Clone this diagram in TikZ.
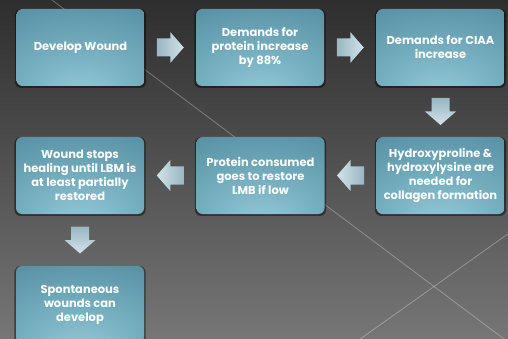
\documentclass[tikz,border=0pt]{standalone}
\usepackage{fontspec}
\setmainfont{Poppins}
\usetikzlibrary{shadows,calc}
\definecolor{bgtop}{HTML}{2E2E2E}
\definecolor{bgmid}{HTML}{464646}
\definecolor{bgbot}{HTML}{767676}
\definecolor{tlight}{HTML}{98CAD9}
\definecolor{tmid}{HTML}{76AFC0}
\definecolor{tdark}{HTML}{558FA1}
\definecolor{tdarker}{HTML}{4A8093}
\definecolor{adark}{HTML}{98B6C2}
\definecolor{alight}{HTML}{D2E3E8}
\pgfdeclareradialshading{tealbox}{\pgfpoint{0bp}{-34bp}}{color(0bp)=(tlight); color(22bp)=(tmid); color(48bp)=(tdark); color(80bp)=(tdarker)}
\tikzset{
  stepbox/.style={rounded corners=6pt, minimum width=128pt, minimum height=77pt,
    shading=tealbox, text=white, align=center, inner sep=2pt,
    font=\bfseries\fontsize{11.5}{14}\selectfont,
    general shadow={fill=black, opacity=0.45, shadow scale=1.025, shadow yshift=-1pt}},
  bgline/.style={white, opacity=0.3, line width=0.8pt},
  pics/arrowR/.style={code={
    \shade[left color=adark, right color=alight]
      (-13.5,-9) -- (0,-9) -- (0,-15.5) -- (13.5,0) -- (0,15.5) -- (0,9) -- (-13.5,9) -- cycle;}},
  pics/arrowL/.style={code={
    \shade[left color=alight, right color=adark]
      (13.5,-9) -- (0,-9) -- (0,-15.5) -- (-13.5,0) -- (0,15.5) -- (0,9) -- (13.5,9) -- cycle;}},
  pics/arrowD/.style={code={
    \shade[top color=adark, bottom color=alight]
      (-9,-13.5) -- (9,-13.5) -- (9,0) -- (15.5,0) -- (0,13.5) -- (-15.5,0) -- (-9,0) -- cycle;}}
}
\begin{document}
\begin{tikzpicture}[x=1pt,y=-1pt]
\useasboundingbox (0,0) rectangle (508,339);
\clip (0,0) rectangle (508,339);
\shade[top color=bgtop, middle color=bgmid, bottom color=bgbot] (0,0) rectangle (508,339);
% background diagonal lines
\coordinate (l1a) at (52,0);
\coordinate (l1b) at (512,345);
\coordinate (l2a) at (356,342);
\coordinate (l2b) at (512,231);
\draw[bgline] (l1a) -- (l1b);
\draw[bgline] (l2a) -- (l2b);
% boxes
\node[stepbox] (b1) at (80.5,47.5) {Develop Wound};
\node[stepbox] (b2) at (260,47.5) {Demands for\\protein increase\\by 88\%};
\node[stepbox] (b3) at (440.5,47.5) {Demands for CIAA\\increase};
\node[stepbox] (b4) at (440.5,175.5) {Hydroxyproline \&\\hydroxylysine are\\needed for\\collagen formation};
\node[stepbox] (b5) at (260.5,175.5) {Protein consumed\\goes to restore\\LMB if low};
\node[stepbox] (b6) at (80,175.5) {Wound stops\\healing until LBM is\\at least partially\\restored};
\node[stepbox] (b7) at (80,304.5) {Spontaneous\\wounds can\\develop};
% block arrows
\coordinate (m12) at ($(b1.east)!0.5!(b2.west)$);
\coordinate (m23) at ($(b2.east)!0.5!(b3.west)$);
\coordinate (m34) at ($(b3.south)!0.5!(b4.north)$);
\coordinate (m45) at ($(b4.west)!0.5!(b5.east)$);
\coordinate (m56) at ($(b5.west)!0.5!(b6.east)$);
\coordinate (m67) at ($(b6.south)!0.5!(b7.north)$);
\pic at (m12) {arrowR};
\pic at (m23) {arrowR};
\pic at (m34) {arrowD};
\pic at (m45) {arrowL};
\pic at (m56) {arrowL};
\pic at (m67) {arrowD};
\end{tikzpicture}
\end{document}
